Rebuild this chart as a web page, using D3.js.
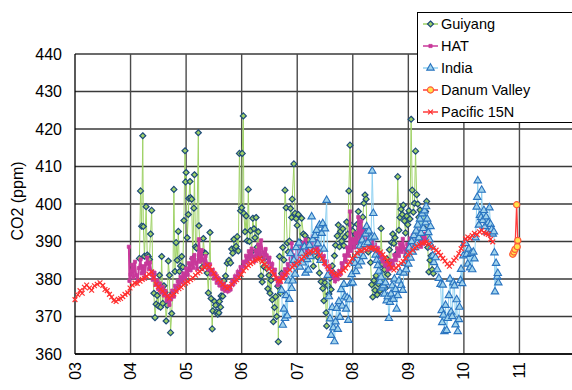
<!DOCTYPE html>
<html>
<head>
<meta charset="utf-8">
<script src="https://cdn.jsdelivr.net/npm/d3@7"></script>
<style>
  body { margin: 0; background: #fff; }
  svg { display: block; font-family: Arial, "Liberation Sans", sans-serif; }
</style>
</head>
<body>
<svg id="chart" width="572" height="390"></svg>
<script>
// year ticks shown under the x axis
const yearTicks = [2003, 2004, 2005, 2006, 2007, 2008, 2009, 2010, 2011];
const yearLabels = ["03", "04", "05", "06", "07", "08", "09", "10", "11"];
const co2Ticks = [360, 370, 380, 390, 400, 410, 420, 430, 440];
const seriesNames = ["Guiyang", "HAT", "India", "Danum Valley", "Pacific 15N"];

// [decimal year, CO2 ppm]
const guiyang = [
  [2004.16,385.5],[2004.18,403.5],[2004.20,394.1],[2004.22,418.2],[2004.23,394.0],[2004.25,386.1],
  [2004.28,399.3],[2004.30,386.4],[2004.32,386.0],[2004.34,385.2],[2004.36,392.0],[2004.38,398.3],
  [2004.40,381.5],[2004.42,376.2],[2004.44,369.7],[2004.46,373.3],[2004.48,375.6],[2004.50,372.8],
  [2004.52,381.0],[2004.54,372.5],[2004.56,386.0],[2004.58,373.5],[2004.60,378.2],[2004.62,376.5],
  [2004.64,368.8],[2004.66,373.0],[2004.68,384.8],[2004.70,381.0],[2004.72,365.7],[2004.74,370.8],
  [2004.76,376.3],[2004.78,403.9],[2004.80,382.0],[2004.82,389.7],[2004.84,385.0],[2004.86,392.7],
  [2004.88,382.0],[2004.90,383.5],[2004.92,386.0],[2004.94,383.2],[2004.96,395.6],[2004.98,414.2],
  [2004.99,405.9],[2005.00,408.4],[2005.02,391.0],[2005.04,397.2],[2005.05,401.5],[2005.07,406.0],
  [2005.08,401.7],[2005.10,401.3],[2005.12,385.4],[2005.14,398.9],[2005.15,407.8],[2005.17,388.6],
  [2005.19,388.2],[2005.22,419.0],[2005.23,394.2],[2005.26,385.3],[2005.29,383.1],[2005.31,390.8],
  [2005.33,387.0],[2005.35,386.8],[2005.38,381.6],[2005.40,376.3],[2005.43,392.4],[2005.45,374.8],
  [2005.47,366.7],[2005.48,371.5],[2005.51,374.0],[2005.53,373.0],[2005.55,371.2],[2005.57,370.6],
  [2005.59,371.0],[2005.60,374.0],[2005.62,372.5],[2005.63,375.5],[2005.66,375.4],[2005.68,379.5],
  [2005.71,380.8],[2005.74,384.2],[2005.77,385.0],[2005.80,384.3],[2005.82,388.0],[2005.84,386.9],
  [2005.86,390.6],[2005.88,388.3],[2005.90,388.7],[2005.92,391.3],[2005.94,387.5],[2005.96,413.5],
  [2005.98,398.2],[2006.00,399.0],[2006.01,413.5],[2006.03,423.5],[2006.04,397.5],[2006.06,392.6],
  [2006.08,396.8],[2006.10,390.2],[2006.12,403.9],[2006.14,390.0],[2006.16,392.9],[2006.18,387.3],
  [2006.20,396.2],[2006.22,393.4],[2006.24,391.0],[2006.26,396.4],[2006.28,388.5],[2006.30,392.6],
  [2006.32,386.1],[2006.35,380.8],[2006.37,379.2],[2006.40,383.3],[2006.42,385.7],[2006.45,382.8],
  [2006.47,377.4],[2006.49,381.0],[2006.51,376.2],[2006.53,379.6],[2006.55,374.5],[2006.57,368.6],
  [2006.59,372.4],[2006.61,375.3],[2006.63,370.0],[2006.65,378.1],[2006.66,363.3],[2006.68,386.0],
  [2006.70,376.2],[2006.72,381.5],[2006.74,388.4],[2006.76,385.1],[2006.78,403.7],[2006.80,399.0],
  [2006.82,389.6],[2006.84,387.2],[2006.86,390.1],[2006.88,398.8],[2006.90,396.4],[2006.91,401.3],
  [2006.94,410.7],[2006.96,397.5],[2006.98,396.1],[2007.00,394.3],[2007.02,397.2],[2007.05,389.8],
  [2007.08,396.2],[2007.11,392.0],[2007.14,391.6],[2007.17,387.5],[2007.20,390.4],[2007.23,386.2],
  [2007.26,388.5],[2007.29,383.4],[2007.32,390.0],[2007.34,389.0],[2007.37,385.8],[2007.40,381.6],
  [2007.43,379.3],[2007.46,377.5],[2007.48,374.2],[2007.50,379.0],[2007.52,371.0],[2007.53,367.5],
  [2007.55,378.3],[2007.57,376.0],[2007.59,380.2],[2007.61,377.2],[2007.63,383.5],[2007.65,381.7],
  [2007.67,386.2],[2007.69,389.0],[2007.72,391.5],[2007.74,394.4],[2007.76,388.6],[2007.78,392.7],
  [2007.80,390.1],[2007.82,393.4],[2007.84,388.9],[2007.86,391.2],[2007.89,395.2],[2007.91,392.0],
  [2007.93,403.5],[2007.95,415.7],[2007.97,394.3],[2008.00,392.8],[2008.02,389.3],[2008.05,391.8],
  [2008.08,394.6],[2008.10,398.0],[2008.13,393.3],[2008.16,391.2],[2008.18,396.5],[2008.20,400.2],
  [2008.22,402.4],[2008.24,401.3],[2008.26,389.6],[2008.28,387.2],[2008.30,391.2],[2008.32,384.4],
  [2008.34,378.5],[2008.36,375.2],[2008.38,379.6],[2008.40,377.0],[2008.42,380.9],[2008.44,375.8],
  [2008.46,378.7],[2008.49,376.9],[2008.51,393.5],[2008.53,384.0],[2008.55,379.4],[2008.57,382.5],
  [2008.59,377.6],[2008.61,385.4],[2008.63,381.2],[2008.66,387.8],[2008.68,384.2],[2008.70,389.7],
  [2008.72,392.0],[2008.74,389.5],[2008.76,391.0],[2008.78,386.6],[2008.81,407.3],[2008.83,393.0],
  [2008.85,396.4],[2008.87,398.6],[2008.89,397.2],[2008.91,399.7],[2008.93,395.5],[2008.95,392.3],
  [2008.97,396.8],[2008.99,394.5],[2009.01,398.2],[2009.03,396.0],[2009.05,422.6],[2009.07,403.7],
  [2009.09,397.8],[2009.11,400.2],[2009.13,414.1],[2009.15,402.5],[2009.17,400.0],[2009.19,396.5],
  [2009.21,398.4],[2009.23,395.2],[2009.25,397.6],[2009.27,393.8],[2009.29,396.4],[2009.31,398.0],
  [2009.33,400.7],[2009.35,388.4],[2009.37,381.9],[2009.39,385.0],[2009.41,386.2],[2009.43,382.5],
  [2009.45,381.5]
];

const hat = [
  [2003.97,388.6],[2003.98,379.5],[2004.00,381.2],[2004.03,383.8],[2004.05,380.4],[2004.08,384.6],
  [2004.10,381.0],[2004.13,379.6],[2004.15,382.9],[2004.18,385.2],[2004.20,381.5],[2004.23,383.4],
  [2004.25,380.2],[2004.28,384.1],[2004.30,385.7],[2004.33,382.6],[2004.35,384.4],[2004.38,381.3],
  [2004.40,379.8],[2004.43,381.7],[2004.45,378.4],[2004.48,379.6],[2004.50,377.3],[2004.53,378.8],
  [2004.55,376.4],[2004.58,377.9],[2004.60,375.6],[2004.63,376.8],[2004.65,374.2],[2004.68,375.5],
  [2004.70,373.1],[2004.73,374.6],[2004.75,376.9],[2004.78,375.3],[2004.80,378.2],[2004.83,377.0],
  [2004.85,379.4],[2004.88,378.1],[2004.90,380.6],[2004.93,379.2],[2004.95,381.5],[2004.98,380.0],
  [2005.00,382.8],[2005.03,381.1],[2005.05,384.2],[2005.08,382.3],[2005.10,385.6],[2005.13,383.0],
  [2005.15,386.4],[2005.18,384.1],[2005.20,382.7],[2005.23,390.6],[2005.25,384.6],[2005.28,387.7],
  [2005.30,385.2],[2005.33,383.4],[2005.35,386.1],[2005.38,384.0],[2005.40,382.5],[2005.43,383.9],
  [2005.45,381.2],[2005.48,382.4],[2005.50,380.1],[2005.53,381.3],[2005.55,379.0],[2005.58,380.2],
  [2005.60,378.3],[2005.63,379.1],[2005.65,377.4],[2005.68,378.6],[2005.70,376.9],[2005.73,377.8],
  [2005.75,376.7],[2005.78,378.0],[2005.80,377.2],[2005.83,379.5],[2005.85,378.6],[2005.88,380.7],
  [2005.90,379.8],[2005.93,381.9],[2005.95,381.0],[2005.98,383.2],[2006.00,382.1],[2006.03,384.6],
  [2006.05,383.3],[2006.08,386.2],[2006.10,384.5],[2006.13,387.4],[2006.15,385.3],[2006.18,388.1],
  [2006.20,386.0],[2006.23,384.7],[2006.25,387.6],[2006.28,385.9],[2006.30,389.2],[2006.33,386.4],
  [2006.35,390.3],[2006.38,387.1],[2006.40,385.2],[2006.43,388.0],[2006.45,386.3],[2006.48,384.4],
  [2006.50,385.7],[2006.53,383.2],[2006.55,384.0],[2006.58,381.6],[2006.60,382.5],[2006.63,379.9],
  [2006.65,378.4],[2006.68,380.2],[2006.70,379.1],[2006.73,381.4],[2006.75,380.3],[2006.78,382.6],
  [2006.80,381.2],[2006.83,384.0],[2006.85,382.7],[2006.88,385.4],[2006.90,389.5],[2006.93,384.1],
  [2006.95,386.3],[2006.98,384.8],[2007.00,387.2],[2007.03,385.6],[2007.05,388.4],[2007.08,386.7],
  [2007.10,389.6],[2007.13,387.3],[2007.15,390.5],[2007.18,388.0],[2007.20,386.2],[2007.23,389.3],
  [2007.25,387.4],[2007.28,391.4],[2007.30,388.5],[2007.33,390.0],[2007.35,387.6],[2007.38,389.1],
  [2007.40,386.2],[2007.43,387.5],[2007.45,385.3],[2007.48,386.1],[2007.50,383.9],[2007.53,384.7],
  [2007.55,382.6],[2007.58,383.3],[2007.60,381.2],[2007.63,382.0],[2007.65,380.4],[2007.68,379.4],
  [2007.70,380.9],[2007.73,380.0],[2007.75,382.1],[2007.78,381.3],[2007.80,384.2],[2007.83,383.0],
  [2007.85,386.3],[2007.88,384.6],[2007.90,388.4],[2007.93,386.2],[2007.95,398.0],[2007.97,387.5],
  [2008.00,390.6],[2008.03,388.4],[2008.05,392.2],[2008.08,389.7],[2008.10,396.5],[2008.13,390.5],
  [2008.15,395.4],[2008.18,391.2],[2008.20,393.1],[2008.23,390.0],[2008.25,392.7],[2008.28,389.4],
  [2008.30,391.6],[2008.33,388.8],[2008.35,390.3],[2008.38,387.9],[2008.40,389.2],[2008.43,386.7],
  [2008.45,388.3],[2008.48,385.8],[2008.50,386.9],[2008.53,384.7],[2008.55,385.6],[2008.58,383.6],
  [2008.60,384.3],[2008.63,382.5],[2008.65,383.8],[2008.68,382.8],[2008.70,384.9],[2008.73,383.6],
  [2008.75,386.4],[2008.78,385.0],[2008.80,388.2],[2008.83,386.1],[2008.85,389.4],[2008.88,387.2],
  [2008.90,390.7],[2008.93,388.0],[2008.95,386.5],[2008.98,389.3],[2009.00,387.4],[2009.03,390.8],
  [2009.05,388.2],[2009.08,391.6],[2009.10,389.0],[2009.13,392.4],[2009.15,389.7],[2009.18,393.0],
  [2009.20,390.1],[2009.23,388.6],[2009.25,391.3],[2009.28,389.5],[2009.30,392.1],[2009.33,390.2]
];

const india = [
  [2006.72,377.0],[2006.74,367.7],[2006.76,372.0],[2006.78,369.5],[2006.80,375.6],[2006.82,370.2],
  [2006.84,379.5],[2006.86,374.6],[2006.88,386.8],[2006.90,377.5],[2006.92,379.5],[2006.94,385.0],
  [2006.96,381.3],[2006.98,388.4],[2007.00,384.0],[2007.03,389.6],[2007.05,383.2],[2007.08,386.9],
  [2007.10,384.3],[2007.13,388.6],[2007.15,381.6],[2007.18,385.2],[2007.20,382.4],[2007.22,389.0],
  [2007.24,386.0],[2007.26,396.6],[2007.28,390.5],[2007.30,387.2],[2007.32,391.6],[2007.35,393.0],
  [2007.37,389.4],[2007.40,394.4],[2007.42,385.0],[2007.44,392.2],[2007.46,394.8],[2007.48,388.0],
  [2007.50,393.4],[2007.53,401.0],[2007.55,381.0],[2007.57,375.3],[2007.59,369.4],[2007.61,365.0],
  [2007.63,372.4],[2007.65,367.0],[2007.67,363.3],[2007.69,368.6],[2007.71,372.2],[2007.73,366.6],
  [2007.75,374.0],[2007.77,369.8],[2007.79,377.2],[2007.81,372.8],[2007.84,378.6],[2007.86,375.3],
  [2007.88,372.0],[2007.90,375.0],[2007.92,369.0],[2007.94,374.5],[2007.96,378.8],[2007.98,381.2],
  [2008.00,379.0],[2008.02,384.6],[2008.04,384.2],[2008.06,382.0],[2008.08,386.3],[2008.10,383.5],
  [2008.13,388.8],[2008.15,384.6],[2008.17,390.4],[2008.19,386.0],[2008.21,389.2],[2008.23,392.0],
  [2008.25,394.0],[2008.27,389.7],[2008.29,392.8],[2008.31,388.0],[2008.33,391.0],[2008.35,408.8],
  [2008.37,397.5],[2008.39,391.2],[2008.41,386.4],[2008.43,385.0],[2008.45,383.6],[2008.47,382.1],
  [2008.49,379.3],[2008.51,380.5],[2008.53,377.6],[2008.55,378.2],[2008.57,376.0],[2008.59,379.0],
  [2008.61,374.2],[2008.63,375.3],[2008.65,369.5],[2008.67,373.8],[2008.69,376.0],[2008.71,378.2],
  [2008.73,374.6],[2008.75,380.0],[2008.77,377.2],[2008.79,372.0],[2008.81,375.6],[2008.83,379.5],
  [2008.85,381.8],[2008.87,378.3],[2008.90,377.0],[2008.92,381.6],[2008.94,384.2],[2008.96,382.5],
  [2008.98,386.4],[2009.00,384.0],[2009.02,388.3],[2009.04,385.6],[2009.06,390.0],[2009.08,387.2],
  [2009.10,391.6],[2009.12,388.4],[2009.14,392.8],[2009.16,389.6],[2009.17,394.4],[2009.19,391.0],
  [2009.21,396.0],[2009.23,392.2],[2009.25,397.4],[2009.27,393.5],[2009.29,398.2],[2009.31,395.0],
  [2009.32,399.3],[2009.34,396.0],[2009.36,392.4],[2009.38,390.5],[2009.40,394.0],[2009.42,388.6],
  [2009.44,386.2],[2009.46,384.4],[2009.49,385.7],[2009.52,382.5],[2009.55,380.2],[2009.58,378.6],
  [2009.60,371.6],[2009.61,368.4],[2009.62,378.4],[2009.63,370.4],[2009.65,366.0],[2009.67,373.0],
  [2009.69,366.3],[2009.71,369.5],[2009.73,375.6],[2009.75,380.0],[2009.77,371.2],[2009.79,370.0],
  [2009.81,379.0],[2009.83,378.2],[2009.85,367.8],[2009.87,374.5],[2009.89,366.0],[2009.91,369.2],
  [2009.92,372.5],[2009.94,379.6],[2009.95,382.6],[2009.97,378.8],[2009.99,386.2],[2010.01,389.5],
  [2010.03,389.5],[2010.05,386.6],[2010.07,384.0],[2010.09,388.0],[2010.11,383.0],[2010.13,386.8],
  [2010.15,382.5],[2010.17,387.2],[2010.19,385.4],[2010.21,391.0],[2010.23,399.2],[2010.24,401.8],
  [2010.25,406.2],[2010.27,394.4],[2010.29,397.0],[2010.31,396.4],[2010.32,403.7],[2010.34,395.6],
  [2010.36,398.3],[2010.38,394.0],[2010.40,396.6],[2010.42,392.5],[2010.44,395.0],[2010.46,399.0],
  [2010.48,394.6],[2010.50,393.2],[2010.52,392.0],[2010.54,392.6],[2010.55,387.0],[2010.56,376.6],
  [2010.58,384.2],[2010.60,380.6],[2010.61,381.5],[2010.62,379.0]
];

const danum = [
  [2010.88,386.6],[2010.90,387.2],[2010.92,387.9],[2010.95,399.8],[2010.97,390.3],[2010.96,388.6]
];

const pacific = [
  [2003.00,374.5],[2003.05,375.8],[2003.09,376.9],[2003.13,376.2],[2003.17,377.8],[2003.21,378.4],
  [2003.26,377.6],[2003.30,377.0],[2003.35,378.2],[2003.40,378.6],[2003.45,379.0],[2003.50,378.3],
  [2003.54,377.2],[2003.58,376.9],[2003.62,375.9],[2003.66,375.2],[2003.70,374.3],[2003.74,374.0],
  [2003.78,374.6],[2003.82,374.8],[2003.86,375.3],[2003.90,375.9],[2003.95,376.3],[2003.99,377.6],
  [2004.03,378.4],[2004.08,378.9],[2004.12,378.8],[2004.17,379.4],[2004.21,379.9],[2004.25,380.2],
  [2004.29,380.7],[2004.33,381.3],[2004.38,381.9],[2004.42,380.4],[2004.46,378.6],[2004.50,377.9],
  [2004.54,377.2],[2004.58,376.8],[2004.62,376.1],[2004.66,375.4],[2004.70,374.9],[2004.74,375.6],
  [2004.78,376.0],[2004.82,376.7],[2004.87,377.4],[2004.91,377.8],[2004.95,378.4],[2004.99,378.9],
  [2005.03,379.3],[2005.08,379.8],[2005.12,380.3],[2005.17,381.0],[2005.21,381.6],[2005.25,382.0],
  [2005.29,382.6],[2005.33,383.1],[2005.38,383.7],[2005.42,383.2],[2005.46,382.4],[2005.50,381.5],
  [2005.54,380.6],[2005.58,379.8],[2005.62,379.2],[2005.66,378.5],[2005.70,377.9],[2005.74,377.5],
  [2005.78,377.9],[2005.82,378.6],[2005.87,379.3],[2005.91,379.8],[2005.95,380.4],[2005.99,381.2],
  [2006.03,382.2],[2006.08,383.0],[2006.12,383.6],[2006.16,384.1],[2006.20,384.5],[2006.25,385.0],
  [2006.29,385.2],[2006.33,385.5],[2006.37,384.7],[2006.41,383.9],[2006.45,383.3],[2006.49,382.7],
  [2006.54,382.1],[2006.58,381.1],[2006.62,380.2],[2006.66,379.6],[2006.70,379.4],[2006.74,380.3],
  [2006.78,381.1],[2006.82,381.8],[2006.87,382.4],[2006.91,383.2],[2006.95,383.7],[2006.99,384.2],
  [2007.03,384.6],[2007.08,385.3],[2007.12,385.9],[2007.16,386.4],[2007.20,386.9],[2007.24,387.4],
  [2007.29,387.2],[2007.33,387.7],[2007.37,387.2],[2007.41,386.3],[2007.45,385.4],[2007.49,384.3],
  [2007.54,383.4],[2007.58,382.6],[2007.62,381.9],[2007.66,381.4],[2007.70,381.0],[2007.74,381.2],
  [2007.78,381.8],[2007.83,382.3],[2007.87,382.9],[2007.91,383.8],[2007.95,384.6],[2007.99,385.5],
  [2008.04,386.2],[2008.08,386.9],[2008.12,387.6],[2008.16,387.5],[2008.21,388.0],[2008.25,387.8],
  [2008.29,388.3],[2008.33,388.1],[2008.37,388.3],[2008.41,387.9],[2008.45,387.6],[2008.50,387.2],
  [2008.54,386.5],[2008.58,385.7],[2008.62,384.9],[2008.66,383.9],[2008.70,383.0],[2008.74,382.4],
  [2008.78,382.9],[2008.82,383.6],[2008.87,384.2],[2008.91,384.7],[2008.95,385.6],[2008.99,386.5],
  [2009.03,387.0],[2009.08,387.7],[2009.12,388.3],[2009.16,388.8],[2009.20,389.2],[2009.25,389.5],
  [2009.29,389.7],[2009.33,389.9],[2009.37,389.3],[2009.41,388.6],[2009.45,388.2],[2009.50,387.7],
  [2009.54,387.1],[2009.58,386.3],[2009.62,385.5],[2009.66,384.8],[2009.70,384.0],[2009.74,383.4],
  [2009.78,384.2],[2009.82,385.0],[2009.86,385.6],[2009.91,386.8],[2009.95,388.1],[2009.99,389.2],
  [2010.03,390.7],[2010.07,391.2],[2010.11,390.9],[2010.15,391.6],[2010.19,392.2],[2010.24,391.8],
  [2010.28,392.6],[2010.32,393.0],[2010.36,392.4],[2010.40,392.1],[2010.44,391.9],[2010.48,390.6],
  [2010.52,389.9]
];

const svg = d3.select('#chart');
const margin = { left: 75, top: 54, bottom: 354 };

const x = d3.scaleLinear().domain([2003, 2012]).range([margin.left, 575]);
const y = d3.scaleLinear().domain([360, 440]).range([margin.bottom, margin.top]);

// grid
const grid = svg.append('g');
grid.selectAll('line.h')
  .data(co2Ticks)
  .enter().append('line')
  .attr('x1', x(2003)).attr('x2', x(2012))
  .attr('y1', d => y(d)).attr('y2', d => y(d))
  .style('stroke', '#3a3a3a').style('stroke-width', 1.4);
grid.selectAll('line.v')
  .data(yearTicks.slice(1))
  .enter().append('line')
  .attr('x1', d => x(d)).attr('x2', d => x(d))
  .attr('y1', y(360)).attr('y2', y(440))
  .style('stroke', '#4a4a4a').style('stroke-width', 1.4);

// axis lines
svg.append('line')
  .attr('x1', x(2003)).attr('x2', x(2003)).attr('y1', y(360)).attr('y2', y(440))
  .style('stroke', '#000').style('stroke-width', 1.3);
svg.append('line')
  .attr('x1', x(2003)).attr('x2', x(2012)).attr('y1', y(360)).attr('y2', y(360))
  .style('stroke', '#000').style('stroke-width', 1.3);

// y tick labels
svg.selectAll('text.ytick')
  .data(co2Ticks)
  .enter().append('text')
  .attr('x', 62)
  .attr('y', d => y(d))
  .attr('dy', '0.35em')
  .attr('text-anchor', 'end')
  .style('font-size', '16px')
  .text(d => d);

// x tick labels (rotated)
svg.selectAll('text.xtick')
  .data(yearTicks)
  .enter().append('text')
  .attr('transform', (d) => 'translate(' + x(d) + ',' + 362 + ') rotate(-90)')
  .attr('dy', '0.35em')
  .attr('text-anchor', 'end')
  .style('font-size', '16px')
  .text((d, i) => yearLabels[i]);

svg.append('text')
  .attr('transform', 'translate(17,201) rotate(-90)')
  .attr('text-anchor', 'middle')
  .attr('dy', '0.35em')
  .style('font-size', '16px')
  .text('CO2 (ppm)');

// marker shapes
const diamond = 'M0,-3L3,0L0,3L-3,0Z';
const square = 'M-1.6,-1.6H1.6V1.6H-1.6Z';
const triangle = d3.symbol().type(d3.symbolTriangle).size(24)();
const circle = d3.symbol().type(d3.symbolCircle).size(30)();
const cross = 'M-2.4,-2.4L2.4,2.4M-2.4,2.4L2.4,-2.4';

const styles = {
  Guiyang: { line: '#9fd266', lw: 1, path: diamond, fill: '#9fd266', stroke: '#1d4a7a', sw: 1.2 },
  HAT: { line: '#c8399a', lw: 2, path: square, fill: '#c8399a', stroke: '#c8399a', sw: 0.8 },
  India: { line: '#8fd1f2', lw: 1, path: triangle, fill: '#9fd2ec', stroke: '#2a74c0', sw: 1.1 },
  'Danum Valley': { line: '#ff3b3b', lw: 1.3, path: circle, fill: '#ffe44a', stroke: '#ff5a3a', sw: 1.2 },
  'Pacific 15N': { line: '#ff3b3b', lw: 1.2, path: cross, fill: 'none', stroke: '#ff3030', sw: 1.2 }
};

const line = d3.line().x(d => x(d[0])).y(d => y(d[1]));

function drawSeries(data, name) {
  const s = styles[name];
  const g = svg.append('g');
  g.append('path')
    .datum(data)
    .attr('d', line)
    .style('fill', 'none')
    .style('stroke', s.line)
    .style('stroke-width', s.lw);
  g.selectAll('path.m')
    .data(data)
    .enter().append('path')
    .attr('transform', d => 'translate(' + x(d[0]) + ',' + y(d[1]) + ')')
    .attr('d', s.path)
    .style('fill', s.fill)
    .style('stroke', s.stroke)
    .style('stroke-width', s.sw);
}

drawSeries(guiyang, 'Guiyang');
drawSeries(hat, 'HAT');
drawSeries(india, 'India');
drawSeries(danum, 'Danum Valley');
drawSeries(pacific, 'Pacific 15N');

// legend
const legend = svg.append('g');
legend.append('rect')
  .attr('x', 417.5).attr('y', 12.5)
  .attr('width', 170).attr('height', 110)
  .style('fill', '#fff').style('stroke', '#000').style('stroke-width', 1);

const rowY = d3.scalePoint().domain(seriesNames).range([24, 112]);
seriesNames.forEach(function (name) {
  const s = styles[name];
  const ly = rowY(name);
  legend.append('line')
    .attr('x1', 423).attr('x2', 438).attr('y1', ly).attr('y2', ly)
    .style('stroke', s.line).style('stroke-width', 1.5);
  legend.append('path')
    .attr('transform', 'translate(430.5,' + ly + ')')
    .attr('d', s.path)
    .style('fill', s.fill).style('stroke', s.stroke).style('stroke-width', s.sw);
  legend.append('text')
    .attr('x', 441).attr('y', ly)
    .attr('dy', '0.36em')
    .style('font-size', '14.5px')
    .text(name);
});
</script>
</body>
</html>
